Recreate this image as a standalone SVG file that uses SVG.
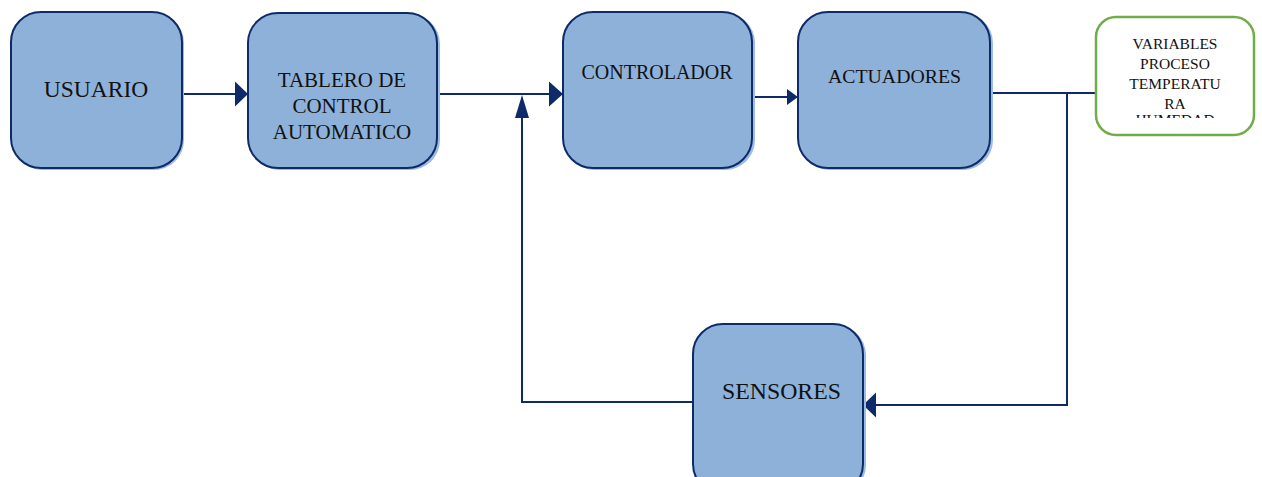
<svg xmlns="http://www.w3.org/2000/svg" width="1262" height="477" viewBox="0 0 1262 477">
  <style>
    .shadow { fill: #9CBCE4; stroke: none; }
    .box { fill: #8EB1DA; stroke: #0E2A68; stroke-width: 2; }
    .var { fill: #FFFFFF; stroke: #70AD47; stroke-width: 2.5; }
    .lbl { font-family: "Liberation Serif", "Times New Roman", serif; fill: #111111; text-anchor: middle; }
    .wire { fill: none; stroke: #0E2A68; stroke-width: 2; }
    .head { fill: #0E2A68; stroke: none; }
  </style>
  <defs>
    <clipPath id="varClip">
      <rect x="1096" y="18" width="158" height="100"/>
    </clipPath>
  </defs>

  <!-- connectors -->
  <g id="connectors">
    <!-- usuario -> tablero -->
    <line class="wire" x1="182" y1="94" x2="237" y2="94"/>
    <polygon class="head" points="248,94 235,81.5 235,106.5"/>
    <!-- tablero -> controlador -->
    <line class="wire" x1="437" y1="94" x2="551" y2="94"/>
    <polygon class="head" points="563,94 549,81.5 549,106.5"/>
    <!-- controlador -> actuadores -->
    <line class="wire" x1="751" y1="97" x2="789" y2="97"/>
    <polygon class="head" points="798,97 787,89 787,105"/>
    <!-- actuadores -> variables, branch down to sensores -->
    <polyline class="wire" points="988,93 1096,93"/>
    <polyline class="wire" points="1067,93 1067,405 875,405"/>
    <polygon class="head" points="863,405 876,392.5 876,417.5"/>
    <!-- sensores feedback -> summing point -->
    <polyline class="wire" points="693,402 522,402 522,116"/>
    <polygon class="head" points="522,95 515,118 529,118"/>
  </g>

  <!-- nodes -->
  <g id="usuario">
    <rect class="shadow" x="13" y="13" width="171" height="157" rx="30"/>
    <rect class="box" x="11" y="12" width="171" height="156" rx="30"/>
    <text class="lbl" x="96" y="97" font-size="23.5">USUARIO</text>
  </g>

  <g id="tablero">
    <rect class="shadow" x="250" y="14" width="190" height="156" rx="30"/>
    <rect class="box" x="248" y="13" width="189" height="155" rx="30"/>
    <text class="lbl" x="342" y="87" font-size="21">TABLERO DE</text>
    <text class="lbl" x="342" y="112.5" font-size="21">CONTROL</text>
    <text class="lbl" x="342" y="138.5" font-size="21">AUTOMATICO</text>
  </g>

  <g id="controlador">
    <rect class="shadow" x="565" y="13" width="190" height="157" rx="30"/>
    <rect class="box" x="563" y="12" width="189" height="156" rx="30"/>
    <text class="lbl" x="657" y="79" font-size="20">CONTROLADOR</text>
  </g>

  <g id="actuadores">
    <rect class="shadow" x="800" y="13" width="193" height="157" rx="30"/>
    <rect class="box" x="798" y="12" width="192" height="156" rx="30"/>
    <text class="lbl" x="894.5" y="82.5" font-size="19.8">ACTUADORES</text>
  </g>

  <g id="variables">
    <rect class="var" x="1096" y="17" width="158" height="118" rx="20"/>
    <g clip-path="url(#varClip)">
      <text class="lbl" x="1175" y="48.5" font-size="15.5">VARIABLES</text>
      <text class="lbl" x="1175" y="69" font-size="15.5">PROCESO</text>
      <text class="lbl" x="1175" y="89" font-size="15.5">TEMPERATU</text>
      <text class="lbl" x="1175" y="108.5" font-size="15.5">RA</text>
      <text class="lbl" x="1175" y="125" font-size="15.5">HUMEDAD</text>
    </g>
  </g>

  <g id="sensores">
    <rect class="shadow" x="695" y="325" width="171" height="170" rx="30"/>
    <rect class="box" x="693" y="324" width="170" height="170" rx="30"/>
    <text class="lbl" x="781.5" y="399" font-size="23.8">SENSORES</text>
  </g>
</svg>
